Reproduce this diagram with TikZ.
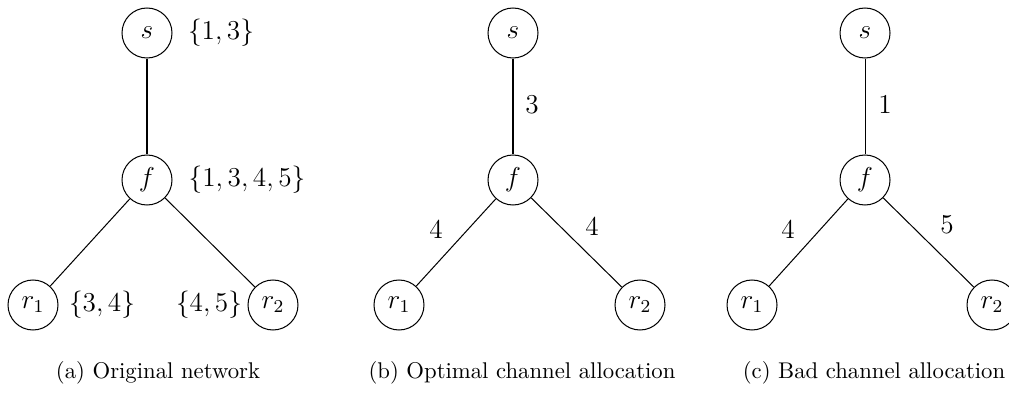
\documentclass[tikz,border=0pt]{standalone}
\begin{document}
\begin{tikzpicture}[x=0.44pt,y=-0.44pt,
  vertex/.style={draw,circle,minimum size=22pt,inner sep=0pt,font=\large,line width=0.45pt},
  setlbl/.style={font=\large,inner sep=0pt},
  chan/.style={font=\large,inner sep=0pt},
  link/.style={line width=0.45pt},
  subcap/.style={font=\normalsize,inner sep=0pt}]
\useasboundingbox (0,0) rectangle (1009,394);
\clip (0,0) rectangle (1009,394);

% (a) original network with available channel sets
\node[vertex] (sa) at (147,33) {$s$};
\node[vertex] (fa) at (147,180) {$f$};
\node[vertex] (r1a) at (33,305) {$r_1$};
\node[vertex] (r2a) at (273,305) {$r_2$};
\draw[link] (sa) -- (fa);
\draw[link] (fa) -- (r1a);
\draw[link] (fa) -- (r2a);
\node[setlbl] (la1) at (221,33) {$\{1,3\}$};
\node[setlbl] (la2) at (247,180) {$\{1,3,4,5\}$};
\node[setlbl] (la3) at (102,305) {$\{3,4\}$};
\node[setlbl] (la4) at (209,305) {$\{4,5\}$};
\node[subcap] (capa) at (158,373) {(a) Original network};

% (b) optimal channel allocation
\node[vertex] (sb) at (513,33) {$s$};
\node[vertex] (fb) at (513,180) {$f$};
\node[vertex] (r1b) at (399,305) {$r_1$};
\node[vertex] (r2b) at (640,305) {$r_2$};
\draw[link] (sb) -- (fb);
\draw[link] (fb) -- (r1b);
\draw[link] (fb) -- (r2b);
\node[chan] (cb1) at (532,105) {$3$};
\node[chan] (cb2) at (436,230) {$4$};
\node[chan] (cb3) at (592,227) {$4$};
\node[subcap] (capb) at (522,373) {(b) Optimal channel allocation};

% (c) bad channel allocation
\node[vertex] (sc) at (865,33) {$s$};
\node[vertex] (fc) at (865,180) {$f$};
\node[vertex] (r1c) at (752,305) {$r_1$};
\node[vertex] (r2c) at (992,305) {$r_2$};
\draw[link] (sc) -- (fc);
\draw[link] (fc) -- (r1c);
\draw[link] (fc) -- (r2c);
\node[chan] (cc1) at (885,105) {$1$};
\node[chan] (cc2) at (788,230) {$4$};
\node[chan] (cc3) at (947,225) {$5$};
\node[subcap] (capc) at (874,373) {(c) Bad channel allocation};
\end{tikzpicture}
\end{document}
